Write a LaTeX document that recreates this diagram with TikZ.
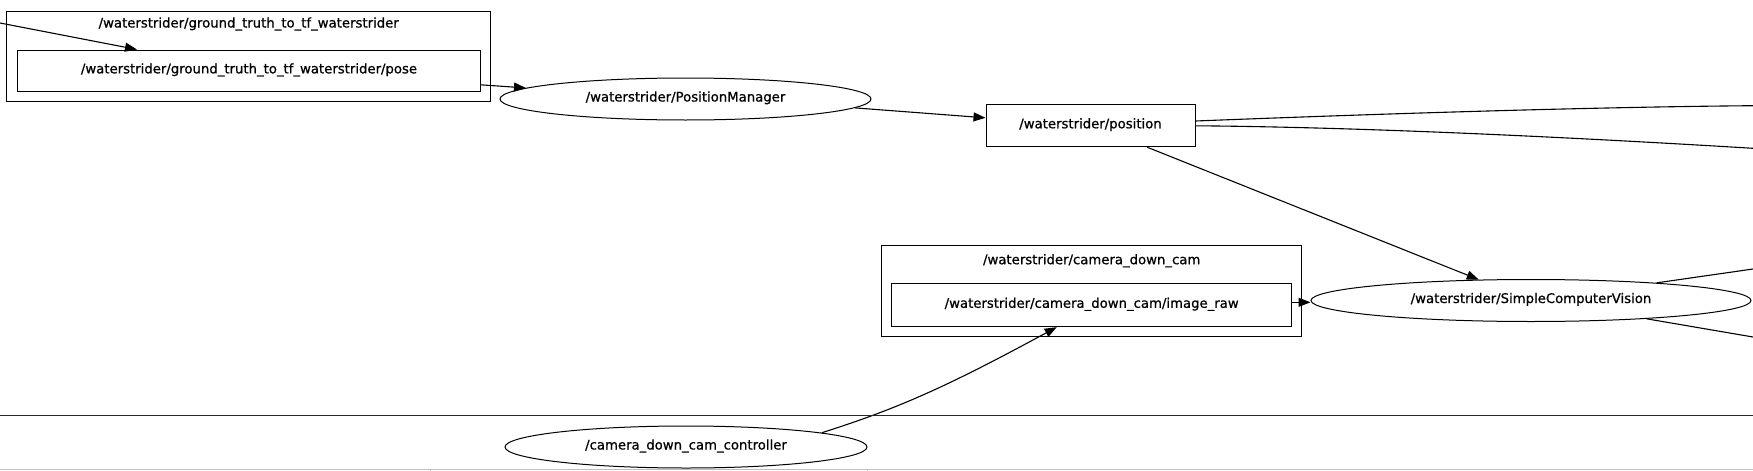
\documentclass[tikz,border=0pt]{standalone}
\usepackage{fontspec}
\setmainfont{DejaVu Sans}[FakeBold=0.8]
\usetikzlibrary{arrows.meta,calc,shapes.geometric}
\begin{document}
\begin{tikzpicture}[x=1pt,y=-1pt,line width=1pt,
  font=\fontsize{13.25}{16}\selectfont,
  box/.style={draw,rectangle,inner sep=0pt,text height=9pt,text depth=4pt},
  oval/.style={draw,ellipse,inner sep=0pt,text height=9pt,text depth=4pt},
  cluster/.style={draw,rectangle,inner sep=0pt},
  lbl/.style={inner sep=0pt,text height=9pt,text depth=4pt},
  edge/.style={-{Triangle[length=12pt,width=9pt]},line width=1.1pt},
  plain/.style={line width=1.1pt}]
\useasboundingbox (0,0) rectangle (1753,471);
% clusters and nodes
\node[cluster,minimum width=484pt,minimum height=90pt] (c1) at (248.7,56.7) {};
\node[lbl] (c1l) at (248.7,25) {/waterstrider/ground\_truth\_to\_tf\_waterstrider};
\node[box,minimum width=463.4pt,minimum height=41.7pt] (pose) at (249,70.85) {/waterstrider/ground\_truth\_to\_tf\_waterstrider/pose};
\node[oval,minimum width=371pt,minimum height=42pt] (pm) at (685.5,99) {/waterstrider/PositionManager};
\node[box,minimum width=209pt,minimum height=41.7pt] (pos) at (1090.5,125.8) {/waterstrider/position};
\node[cluster,minimum width=420pt,minimum height=91pt] (c2) at (1091.7,291.2) {};
\node[lbl] (c2l) at (1091.7,261.7) {/waterstrider/camera\_down\_cam};
\node[box,minimum width=400pt,minimum height=42.7pt] (imr) at (1091.7,305.3) {/waterstrider/camera\_down\_cam/image\_raw};
\node[oval,minimum width=440pt,minimum height=42pt] (scv) at (1531,300.5) {/waterstrider/SimpleComputerVision};
\node[oval,minimum width=362pt,minimum height=42pt] (ctrl) at (686,447) {/camera\_down\_cam\_controller};
% free ends
\coordinate (inL) at (0,23);
\coordinate (outA) at (1753,105.7);
\coordinate (outB) at (1753,148.3);
\coordinate (outC) at (1753,269);
\coordinate (outD) at (1753,337);
\coordinate (sepL) at (0,415.7);
\coordinate (sepR) at (1753,415.7);
\coordinate (barL) at (0,469.7);
\coordinate (barR) at (1753,469.7);
\coordinate (tickA) at (430,469.7);
\coordinate (tickB) at (867,469.7);
% edges
\draw[edge] (inL) -- ($(pose.north)+(-112,0)$);
\draw[edge] ($(pose.east)+(0,14)$) -- (pm);
\draw[edge] (pm.-3.5) -- (pos);
\draw[edge] ($(pos.south)+(56.5,0)$) -- (scv);
\draw[plain] ($(pos.east)+(0,-4.8)$) .. controls (1400,113) and (1600,107) .. (outA);
\draw[plain] (pos.east) .. controls (1350,127) and (1550,136) .. (outB);
\draw[edge] ($(imr.east)+(0,-3)$) coordinate (a) -- (a -| scv.west);
\draw[plain] (scv.8) -- (outC);
\draw[plain] (scv.-9.5) -- (outD);
\draw[edge] (ctrl.6) .. controls (900,408) and (950,385) .. ($(imr.south)+(-35,0)$);
% window lines
\draw[line width=1.3pt,black!85] (sepL) -- (sepR);
\draw[line width=1.5pt,black!25] (barL) -- (barR);
\draw[line width=1pt,black!25] (tickA) -- ++(0,2);
\draw[line width=1pt,black!25] (tickB) -- ++(0,2);
\end{tikzpicture}
\end{document}
